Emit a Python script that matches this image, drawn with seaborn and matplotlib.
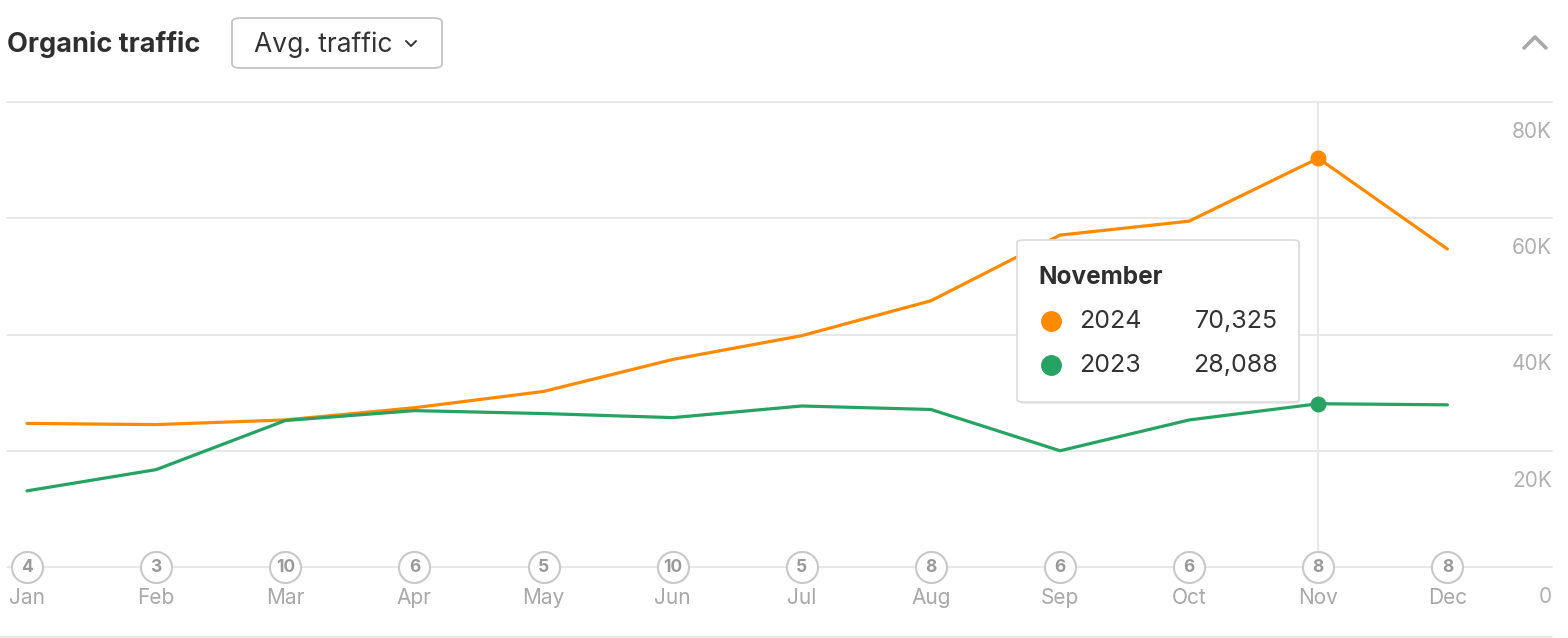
import numpy as np
import pandas as pd
import seaborn as sns
import matplotlib.pyplot as plt
from matplotlib.patches import FancyBboxPatch
from matplotlib.lines import Line2D
from matplotlib.transforms import offset_copy

months = ["Jan", "Feb", "Mar", "Apr", "May", "Jun", "Jul", "Aug", "Sep", "Oct", "Nov", "Dec"]
traffic_2024 = [24700, 24500, 25300, 27400, 30200, 35700, 39800, 45800, 57100, 59500, 70325, 54700]
traffic_2023 = [13100, 16750, 25200, 26900, 26400, 25700, 27700, 27100, 20000, 25300, 28088, 27900]
notes = [4, 3, 10, 6, 5, 10, 5, 8, 6, 6, 8, 8]
y_ticks = [0, 20000, 40000, 60000, 80000]
y_labels = ["0", "20K", "40K", "60K", "80K"]
hover_month = "Nov"
hover_name = "November"

ORANGE = "#ff8a00"
GREEN = "#26a363"
GREY = "#a8a8a8"
GRID = "#e6e6e6"

df = pd.concat([
    pd.DataFrame({"month": months, "idx": range(12), "traffic": traffic_2024, "year": "2024"}),
    pd.DataFrame({"month": months, "idx": range(12), "traffic": traffic_2023, "year": "2023"}),
])

sns.set_theme(style="white")
plt.rcParams["font.family"] = ["Inter", "DejaVu Sans"]

W, H = 1568, 638
fig = plt.figure(figsize=(W / 100, H / 100), dpi=100)


def fx(px):
    return px / W


def fy(py):
    return 1 - py / H


ax = fig.add_axes([fx(7), fy(567), fx(1552) - fx(7), fy(102) - fy(567)])
sns.lineplot(data=df, x="idx", y="traffic", hue="year",
             palette={"2024": ORANGE, "2023": GREEN}, linewidth=2.3,
             legend=False, ax=ax, zorder=3)

ax.set_xlim(-0.155, 11.81)
ax.set_ylim(0, 80000)
for s in ax.spines.values():
    s.set_visible(False)
ax.set_xticks([])
ax.set_yticks([])
ax.set_xlabel("")
ax.set_ylabel("")

# gridlines
for v in y_ticks:
    ax.axhline(v, color=GRID, lw=1.3, zorder=0, clip_on=False)

# hover line + points
hi = months.index(hover_month)
ax.axvline(hi, color=GRID, lw=1.3, zorder=1)
ax.scatter([hi], [traffic_2024[hi]], s=110, color=ORANGE, zorder=4)
ax.scatter([hi], [traffic_2023[hi]], s=110, color=GREEN, zorder=4)

# y labels, shifted below their gridline
lab_tr = offset_copy(ax.get_yaxis_transform(), fig=fig, x=0, y=-30, units="dots")
for v, t in zip(y_ticks, y_labels):
    ax.text(1.0, v, t, transform=lab_tr, ha="right", va="center",
            fontsize=15, color="#b0b0b0")

# month labels + note circles
mon_tr = offset_copy(ax.transData, fig=fig, x=0, y=-31, units="dots")
ax.scatter(range(12), [0] * 12, s=500, facecolor="white", edgecolor="#c8c8c8",
           linewidth=1.5, zorder=5, clip_on=False)
for i, (m, n) in enumerate(zip(months, notes)):
    ax.text(i, 0, m, transform=mon_tr, ha="center", va="center",
            fontsize=15, color=GREY)
    ax.text(i, 0, str(n), ha="center", va="center", fontsize=12.5,
            fontweight="bold", color="#9a9a9a", zorder=6)

# header
fig.text(fx(7), fy(45), "Organic traffic", fontsize=19.5, fontweight="bold",
         color="#2f2f2f", va="center", ha="left")
fig.add_artist(FancyBboxPatch((fx(232), fy(68)), fx(442) - fx(232), fy(18) - fy(68),
                              boxstyle="round,pad=0,rounding_size=0.006",
                              transform=fig.transFigure, facecolor="white",
                              edgecolor="#c4c4c4", linewidth=1.3))
fig.text(fx(254), fy(45), "Avg. traffic", fontsize=19, color="#333333",
         va="center", ha="left")
fig.add_artist(Line2D([fx(406), fx(411), fx(416)], [fy(41), fy(46), fy(41)],
                      color="#333333", lw=1.4, transform=fig.transFigure))
fig.add_artist(Line2D([fx(1524), fx(1535), fx(1546)], [fy(48), fy(37), fy(48)],
                      color="#a8a8a8", lw=2.6, transform=fig.transFigure))

# bottom rule
fig.add_artist(Line2D([0, fx(1552)], [fy(637), fy(637)], color=GRID, lw=1.3,
                      transform=fig.transFigure))

# tooltip
fig.add_artist(FancyBboxPatch((fx(1019), fy(404)), fx(1300) - fx(1019), fy(240) - fy(404),
                              boxstyle="round,pad=0,rounding_size=0.004",
                              transform=fig.transFigure, facecolor="#d8d8d8",
                              edgecolor="none", alpha=0.5, zorder=8))
fig.add_artist(FancyBboxPatch((fx(1017), fy(402)), fx(1299) - fx(1017), fy(240) - fy(402),
                              boxstyle="round,pad=0,rounding_size=0.004",
                              transform=fig.transFigure, facecolor="white",
                              edgecolor="#dcdcdc", linewidth=1.2, zorder=9))
fig.text(fx(1038), fy(278), hover_name, fontsize=17.5, fontweight="bold",
         color="#2f2f2f", va="center", ha="left", zorder=10)
for row_y, name, val, col in [(321, "2024", traffic_2024[hi], ORANGE),
                              (365, "2023", traffic_2023[hi], GREEN)]:
    fig.add_artist(Line2D([fx(1051)], [fy(row_y)], marker="o", markersize=14,
                          color=col, transform=fig.transFigure, zorder=10))
    fig.text(fx(1079), fy(row_y), name, fontsize=18, color="#333333",
             va="center", ha="left", zorder=10)
    fig.text(fx(1278), fy(row_y), f"{val:,}", fontsize=18, color="#333333",
             va="center", ha="right", zorder=10)

fig.savefig("out.png", dpi=100)
